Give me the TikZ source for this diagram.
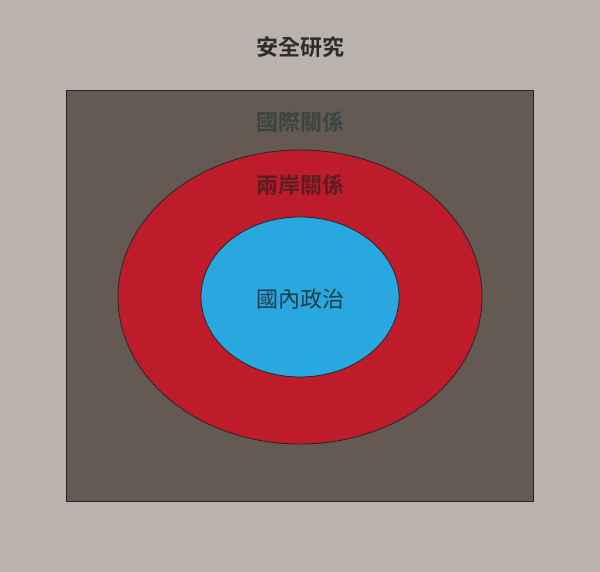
\documentclass[tikz,border=0pt]{standalone}
\usepackage{fontspec}
\newfontfamily\cjk{Noto Sans CJK TC}
\newfontfamily\cjkb{Noto Sans CJK TC Bold}
\definecolor{bgc}{HTML}{B9B2AD}
\definecolor{boxc}{HTML}{645953}
\definecolor{redc}{HTML}{BE1C2B}
\definecolor{bluec}{HTML}{29A8E0}
\definecolor{t1}{HTML}{2E2C2B}
\definecolor{t2}{HTML}{3A4442}
\definecolor{t3}{HTML}{5A1E22}
\definecolor{t4}{HTML}{1E3C48}
\tikzset{
  lbl/.style={font=\cjkb\fontsize{22}{22}\selectfont, inner sep=0pt},
  lblr/.style={font=\cjk\fontsize{22}{22}\selectfont, inner sep=0pt},
  outline/.style={draw=black!85, line width=1pt}
}
\begin{document}
\begin{tikzpicture}[x=1pt,y=1pt]
\fill[bgc] (0,0) rectangle (600,572);
\useasboundingbox (0,0) rectangle (600,572);
\draw[outline, fill=boxc] (66,70) rectangle (533,481);
\draw[outline, line width=0.8pt, fill=redc] (300,275) ellipse [x radius=182, y radius=147];
\draw[outline, line width=0.8pt, fill=bluec] (300,275) ellipse [x radius=99, y radius=80];
\node[lbl, text=t1] (top) at (300,525) {安全研究};
\node[lbl, text=t2] (intl) at (300,450) {國際關係};
\node[lbl, text=t3] (cross) at (300,387) {兩岸關係};
\node[lblr, text=t4] (dom) at (300,273) {國內政治};
\end{tikzpicture}
\end{document}
